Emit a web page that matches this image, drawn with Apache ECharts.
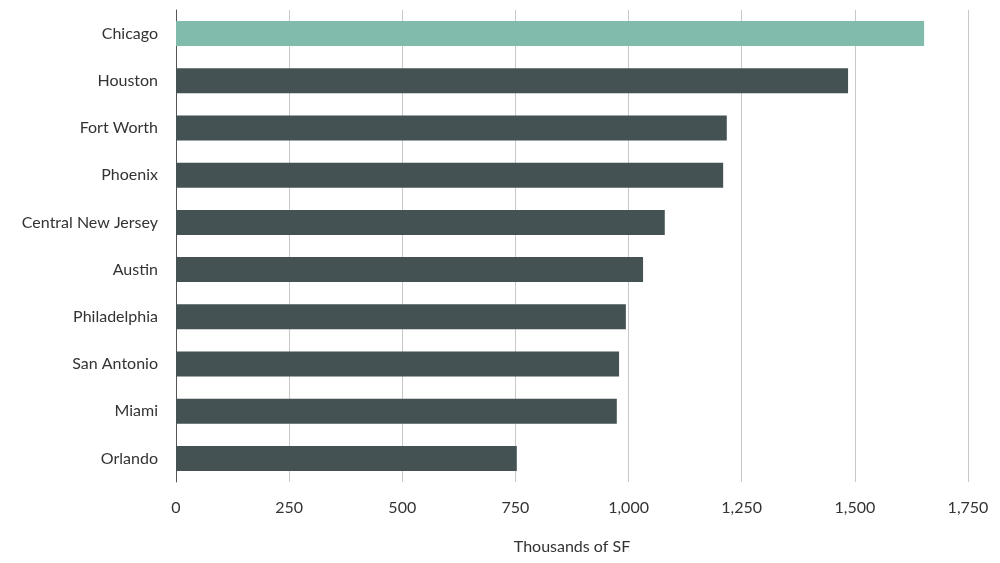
<!DOCTYPE html>
<html>
<head>
<meta charset="utf-8">
<script src="https://cdn.jsdelivr.net/npm/echarts@6/dist/echarts.min.js"></script>
<style>html,body{margin:0;background:#fff}#chart{width:1000px;height:563px}</style>
</head>
<body>
<div id="chart"></div>
<script>
var markets = ['Chicago', 'Houston', 'Fort Worth', 'Phoenix', 'Central New Jersey',
	'Austin', 'Philadelphia', 'San Antonio', 'Miami', 'Orlando'];
var sqft = [1653, 1485, 1217, 1209, 1080, 1032, 994, 979, 974, 753];
var highlight = 'Chicago';

var chart = echarts.init(document.getElementById('chart'));
chart.setOption({
	animation : false,
	textStyle : { fontFamily : 'Lato, sans-serif' },
	grid : { left : 176, right : 32, top : 10, bottom : 81 },
	xAxis : {
		type : 'value',
		min : 0,
		max : 1750,
		interval : 250,
		name : 'Thousands of SF',
		nameLocation : 'middle',
		nameGap : 57,
		nameTextStyle : { fontSize : 16, color : '#333' },
		axisLabel : {
			fontSize : 16, color : '#333', margin : 18,
			formatter : function(v) { return v.toLocaleString('en-US'); }
		},
		axisLine : { show : false },
		axisTick : { show : false },
		splitLine : { lineStyle : { color : '#c8c8c8' } }
	},
	yAxis : {
		type : 'category',
		inverse : true,
		data : markets,
		axisLabel : { fontSize : 16, color : '#333', margin : 18 },
		axisTick : { show : false },
		axisLine : { lineStyle : { color : '#555', width : 1 } }
	},
	series : [ {
		type : 'bar',
		barWidth : '53%',
		data : sqft.map(function(v, i) {
			return {
				value : v,
				itemStyle : { color : markets[i] === highlight ? '#80bbab' : '#455254' }
			};
		})
	} ]
});
</script>
</body>
</html>
